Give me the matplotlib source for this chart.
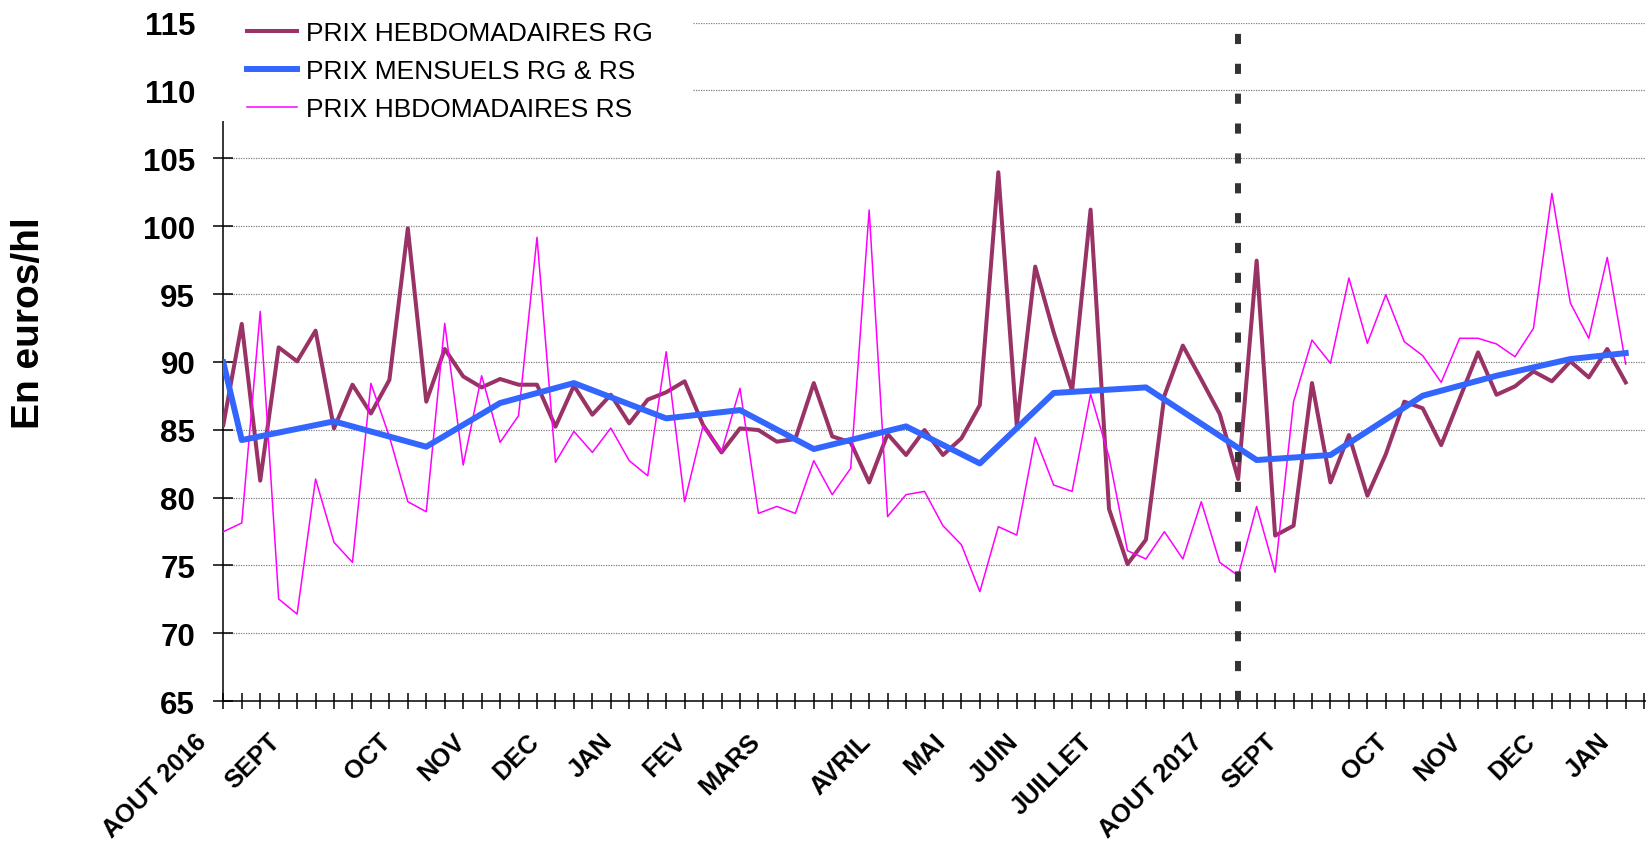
import matplotlib
matplotlib.use("Agg")
import matplotlib.pyplot as plt
import matplotlib.transforms as mtransforms
from matplotlib.patches import Rectangle

plt.rcParams['font.family'] = ['Liberation Sans', 'DejaVu Sans']

# prix hebdomadaires RG (77 semaines, aout 2016 -> janvier 2018)
prix_rg = [85.35, 92.8, 81.25, 91.07, 90.04, 92.3, 85.1, 88.32, 86.2, 88.67,
           99.84, 87.07, 90.95, 88.93, 88.12, 88.74, 88.32, 88.32, 85.23, 88.25,
           86.11, 87.58, 85.47, 87.22, 87.76, 88.57, 85.35, 83.33, 85.1, 84.98,
           84.12, 84.32, 88.44, 84.51, 84.07, 81.12, 84.69, 83.14, 84.98, 83.14,
           84.37, 86.82, 103.97, 85.3, 97.02, 92.18, 87.88, 101.22, 79.16, 75.1,
           76.9, 87.51, 91.2, 88.7, 86.16, 81.37, 97.46, 77.2, 77.93, 88.44,
           81.12, 84.61, 80.14, 83.2, 87.07, 86.58, 83.87, 87.3, 90.7, 87.58,
           88.2, 89.3, 88.57, 90.04, 88.86, 90.95, 88.49]

# prix hebdomadaires RS
prix_rs = [77.49, 78.13, 93.72, 72.53, 71.42, 81.37, 76.7, 75.23, 88.42, 84.5,
           79.7, 78.96, 92.84, 82.4, 88.98, 84.07, 86.04, 99.18, 82.6, 84.88,
           83.33, 85.13, 82.72, 81.61, 90.75, 79.7, 85.3, 83.38, 88.05, 78.84,
           79.35, 78.84, 82.72, 80.22, 82.16, 101.19, 78.6, 80.22, 80.46, 77.93,
           76.53, 73.07, 77.86, 77.24, 84.44, 80.93, 80.46, 87.63, 83.0, 76.09,
           75.48, 77.49, 75.48, 79.7, 75.23, 74.25, 79.35, 74.5, 87.07, 91.61,
           89.9, 96.18, 91.37, 94.95, 91.49, 90.46, 88.49, 91.74, 91.74, 91.32,
           90.38, 92.47, 102.42, 94.34, 91.74, 97.7, 89.84]

# prix mensuels RG & RS (semaine ou le point mensuel est place)
semaines_mens = [0, 1, 6, 11, 15, 19, 24, 28, 32, 37, 41, 45, 50, 56, 60, 65, 69, 73, 76]
prix_mens = [89.97, 84.24, 85.62, 83.75, 86.97, 88.44, 85.84, 86.45, 83.58, 85.25,
             82.52, 87.71, 88.12, 82.77, 83.14, 87.51, 88.98, 90.21, 90.65]

# etiquettes des mois
mois_pos = [0, 4, 10, 14, 18, 22, 26, 30, 36, 40, 44, 48, 54, 58, 64, 68, 72, 76]
mois_lab = ['AOUT 2016', 'SEPT', 'OCT', 'NOV', 'DEC', 'JAN', 'FEV', 'MARS', 'AVRIL',
            'MAI', 'JUIN', 'JUILLET', 'AOUT 2017', 'SEPT', 'OCT', 'NOV', 'DEC', 'JAN']
semaine_separation = 55

W, H = 1646, 845
fig = plt.figure(figsize=(W / 100, H / 100), dpi=100)
ax = fig.add_axes([223.3 / W, 1 - 702.2 / H, (W - 223.3) / W, (702.2 - 23.6) / H])

semaines = list(range(len(prix_rg)))
ax.plot(semaines, prix_rg, color='#993366', lw=2.9, label='PRIX HEBDOMADAIRES RG', zorder=3)
ax.plot(semaines, prix_rs, color='#FF00FF', lw=1.1, label='PRIX HBDOMADAIRES RS', zorder=3.2)
ax.plot(semaines_mens, prix_mens, color='#3366FF', lw=4.3, label='PRIX MENSUELS RG & RS',
        zorder=3.4)

ax.axvline(semaine_separation, ymin=0, ymax=0.99, color='#333333', lw=4.3,
           dashes=(1.7, 3.3), zorder=4)

ax.set_xlim(0, 77.1)
ax.set_ylim(65, 115)
ax.set_yticks(range(65, 116, 5))
ax.yaxis.grid(True, color='#808080', lw=0.9, ls=(0, (1, 1)))
ax.set_axisbelow(True)

labels = [''] * 78
for p, l in zip(mois_pos, mois_lab):
    labels[p] = l
ax.set_xticks(range(78))
ax.set_xticklabels(labels, rotation=45, ha='right', va='top', fontsize=18.3, fontweight='bold')
for t in ax.get_yticklabels():
    t.set_fontsize(22.5)
    t.set_fontweight('bold')

ax.tick_params(axis='x', direction='inout', length=11.5, width=1.1, pad=14.2)
ax.tick_params(axis='y', direction='inout', length=14.4, width=1.1, pad=13)
for s in ['top', 'right']:
    ax.spines[s].set_visible(False)
for s in ['left', 'bottom']:
    ax.spines[s].set_linewidth(1.1)

offset = mtransforms.ScaledTranslation(-0.12, 0, fig.dpi_scale_trans)
for lab in ax.get_xticklabels():
    lab.set_transform(lab.get_transform() + offset)

fig.text(29 / W, 1 - 323 / H, 'En euros/hl', rotation=90, ha='center', va='center',
         fontsize=28, fontweight='bold')

# cache blanc derriere la legende
ax.add_patch(Rectangle((-0.012, 0.855), 0.342, 0.2, transform=ax.transAxes,
                       facecolor='white', edgecolor='none', zorder=5, clip_on=False))
handles, labs = ax.get_legend_handles_labels()
order = [0, 2, 1]
leg = fig.legend([handles[i] for i in order], [labs[i] for i in order],
                 loc='center left', bbox_to_anchor=(246.7 / W, 1 - 72 / H),
                 frameon=False, fontsize=19, handlelength=1.9, handletextpad=0.36,
                 labelspacing=0.53, borderpad=0, borderaxespad=0)
leg.set_zorder(6)

fig.savefig('out.png', dpi=100)
